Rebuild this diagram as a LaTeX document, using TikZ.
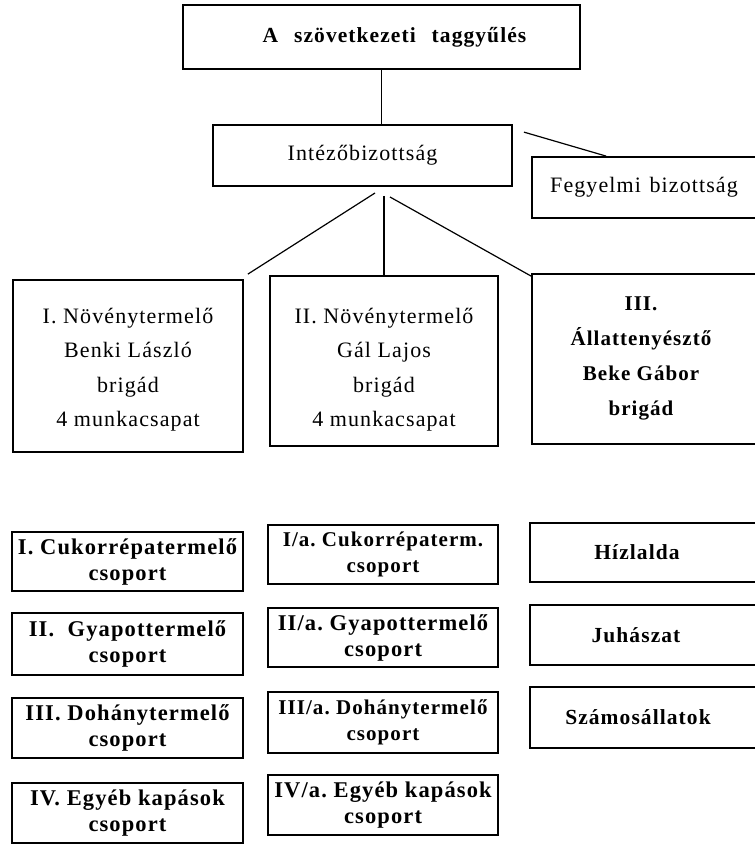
\documentclass[tikz,border=0pt]{standalone}
\usepackage{fontspec}
\setmainfont{Liberation Serif}[LetterSpace=5]
\begin{document}
\begin{tikzpicture}[x=1pt,y=-1pt,
  box/.style={draw, line width=1.8pt, inner sep=0pt, align=center, anchor=center},
  txt/.style={inner sep=0pt, align=center, anchor=center},
  brig/.style={txt, font=\fontsize{22}{34.5}\selectfont},
  grp/.style={box, font=\bfseries\fontsize{22.5}{26}\selectfont},
  grpr/.style={box, font=\bfseries\fontsize{21.5}{26}\selectfont},
  conn/.style={line width=1.2pt}]
\useasboundingbox (0,0) rectangle (754,850);

% top levels
\node[box, minimum width=397pt, minimum height=64pt, font=\bfseries\fontsize{21.5}{24}\selectfont]
  (top) at (381.5,37) {\kern26pt A~~\hspace{3pt}szövetkezeti~~\hspace{3pt}taggyűlés};
\node[box, minimum width=299pt, minimum height=61pt, font=\fontsize{22}{26}\selectfont]
  (inte) at (362.5,155.5) {Intézőbizottság};
\node[box, minimum width=224pt, minimum height=61pt, font=\fontsize{22}{26}\selectfont]
  (fegy) at (644,187.5) {Fegyelmi~\hspace{2pt}bizottság};

% brigades: frames and texts
\node[box, minimum width=230pt, minimum height=172pt] (b1) at (128,366) {};
\node[box, minimum width=228pt, minimum height=170pt] (b2) at (384,361) {};
\node[box, minimum width=224pt, minimum height=170pt] (b3) at (644,359) {};
\node[brig] (b1t) at (128,369.5)
  {I.~Növénytermelő\\Benki~László\\brigád\\4~munkacsapat};
\node[brig] (b2t) at (384,369.5)
  {II.~Növénytermelő\\Gál~Lajos\\brigád\\4~munkacsapat};
\node[brig, font=\bfseries\fontsize{21}{35}\selectfont] (b3t) at (641,358.5)
  {III.\\Állattenyésztő\\Beke~Gábor\\brigád};

% groups, left column
\node[grp, minimum width=231pt, minimum height=59pt] (g1a) at (127.5,561.5) {I.~Cukorrépatermelő\\csoport};
\node[grp, minimum width=231pt, minimum height=62pt] (g1b) at (127.5,644) {II.~~Gyapottermelő\\csoport};
\node[grp, minimum width=231pt, minimum height=60pt] (g1c) at (127.5,728) {III.~Dohánytermelő\\csoport};
\node[grp, minimum width=231pt, minimum height=60pt] (g1d) at (127.5,813) {IV.~Egyéb~kapások\\csoport};

% groups, middle column
\node[grp, font=\bfseries\fontsize{21}{26}\selectfont, minimum width=230pt, minimum height=59pt] (g2a) at (383,554.5) {I/a.~Cukorrépaterm.\\csoport};
\node[grp, minimum width=230pt, minimum height=59pt] (g2b) at (383,637.5) {II/a.~Gyapottermelő\\csoport};
\node[grp, font=\bfseries\fontsize{21}{26}\selectfont, minimum width=230pt, minimum height=61pt] (g2c) at (383,722.5) {III/a.~Dohánytermelő\\csoport};
\node[grp, minimum width=230pt, minimum height=60pt] (g2d) at (383,805) {IV/a.~Egyéb~kapások\\csoport};

% groups, right column
\node[grpr, minimum width=226pt, minimum height=59pt] (g3a) at (643,552.5) {Hízlalda\kern12pt};
\node[grpr, minimum width=226pt, minimum height=60pt] (g3b) at (643,635) {Juhászat\kern14pt};
\node[grpr, minimum width=226pt, minimum height=61pt] (g3c) at (643,717.5) {Számosállatok\kern10pt};

% connectors
\draw[conn] (top.south) -- (top.south |- inte.north);
\draw[conn] ([xshift=11pt,yshift=-8pt]inte.north east) -- ([xshift=75pt]fegy.north west);
\coordinate (fl) at (375,193);
\coordinate (fm) at (384,196);
\coordinate (fr) at (390,197);
\draw[conn] (fl) -- ([xshift=4pt,yshift=5pt]b1.north east);
\draw[conn] (fm) -- (fm |- b2.north);
\draw[conn] (fr) -- ([yshift=-3pt]b3.north west);
\end{tikzpicture}
\end{document}
